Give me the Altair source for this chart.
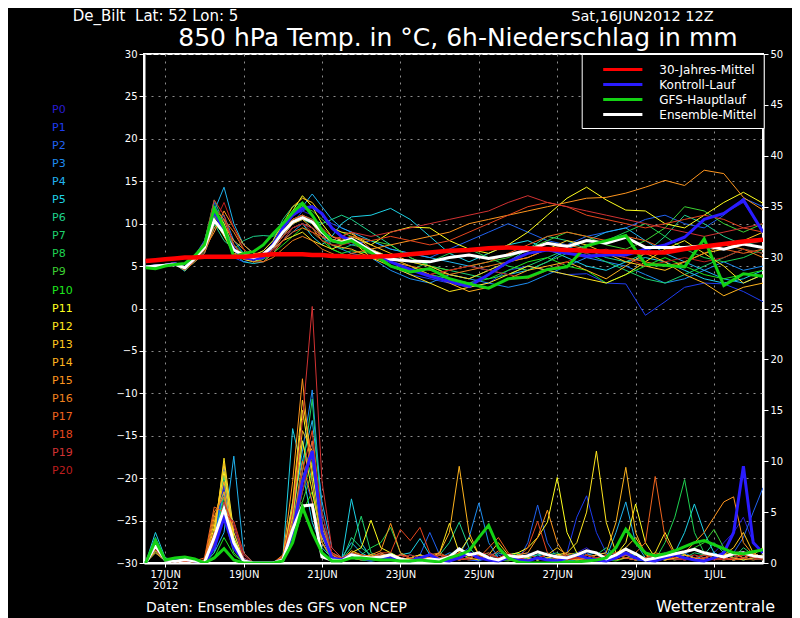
import json
import pandas as pd
import altair as alt

# ---------------- time axes (hours after 16JUN2012 12Z) ----------------
T_HOURS = [0, 6, 12, 18, 24, 30, 36, 42, 48, 54, 60, 66, 72, 78, 84, 90, 96, 102, 108, 114, 120, 126,
           138, 150, 162, 174, 186, 198, 210, 222, 234, 246, 258, 270, 282, 294, 306, 318, 330, 342, 354, 366, 378]
P_HOURS = [0, 6, 12, 18, 24, 30, 36, 42, 48, 54, 60, 66, 72, 78, 84, 90, 96, 102, 108, 114, 120, 126,
           132, 138, 144, 150, 156, 162, 168, 174, 180, 186, 192, 198, 204, 210, 216, 222, 228, 234, 240,
           246, 252, 258, 264, 270, 276, 282, 288, 294, 300, 306, 312, 318, 324, 330, 336, 342, 348, 354,
           360, 366, 372, 378]

X_TICK_HOURS = [12, 60, 108, 156, 204, 252, 300, 348]
X_TICK_LABELS = ['17JUN', '19JUN', '21JUN', '23JUN', '25JUN', '27JUN', '29JUN', '1JUL']
X_YEAR_LABEL = '2012'
TEMP_TICKS = [-30, -25, -20, -15, -10, -5, 0, 5, 10, 15, 20, 25, 30]
PREC_TICKS = [0, 5, 10, 15, 20, 25, 30, 35, 40, 45, 50]

MEMBERS = ['P0', 'P1', 'P2', 'P3', 'P4', 'P5', 'P6', 'P7', 'P8', 'P9', 'P10',
           'P11', 'P12', 'P13', 'P14', 'P15', 'P16', 'P17', 'P18', 'P19', 'P20']
MEMBER_COLORS = ['#2a1cd2', '#1e3cf0', '#2062f0', '#1e8cf0', '#20b4f0', '#1ed2e6', '#1ed28c',
                 '#1ed26e', '#1ed250', '#3cd232', '#1ee61e', '#ffff1e', '#ffe61e', '#ffc81e',
                 '#ffb41e', '#ff961e', '#f0821e', '#f0641e', '#e6461e', '#d23232', '#be1e1e']

SERIES = ['30-Jahres-Mittel', 'Kontroll-Lauf', 'GFS-Hauptlauf', 'Ensemble-Mittel']
SERIES_COLORS = ['#ff0000', '#2a1cff', '#14d214', '#ffffff']

# ---------------- 850 hPa temperature, members (deg C) ----------------
TEMP_P0 = [4.9, 5.0, 5.1, 5.3, 4.7, 6.0, 7.5, 11.0, 9.5, 6.5, 6.0, 5.8, 6.3, 7.8, 9.5, 11.0, 11.5, 11.0, 9.5, 8.0, 7.5, 8.0,
           7.0, 5.5, 4.5, 4.0, 3.5, 3.0, 4.0, 5.5, 6.5, 7.0, 6.5, 6.0, 6.2, 6.5, 7.0, 7.5, 8.4, 10.5, 11.2, 12.5, 9.0]
TEMP_P1 = [4.8, 5.0, 5.0, 5.2, 4.6, 5.8, 7.0, 12.5, 9.0, 6.0, 5.5, 5.8, 6.0, 7.0, 8.5, 10.0, 11.5, 12.0, 11.0, 10.0, 9.5, 9.0,
           6.5, 5.0, 4.0, 3.5, 3.0, 2.5, 3.0, 4.5, 5.0, 4.5, 4.0, 4.1, 3.0, 2.9, -0.8, 0.8, 2.5, 3.0, 2.9, 2.0, 0.8]
TEMP_P2 = [5.0, 5.1, 5.2, 5.4, 4.9, 6.2, 8.0, 12.0, 10.5, 7.5, 6.0, 5.5, 6.0, 7.5, 9.0, 10.0, 10.5, 10.0, 9.0, 8.5, 8.0, 7.5,
           8.0, 7.0, 6.5, 6.0, 7.0, 8.0, 9.0, 10.0, 9.0, 8.0, 7.5, 8.5, 9.0, 9.5, 10.5, 11.0, 10.0, 9.5, 11.0, 13.0, 12.0]
TEMP_P3 = [4.9, 5.0, 5.1, 5.2, 4.5, 5.5, 6.5, 9.5, 11.0, 8.0, 6.5, 6.0, 6.5, 7.0, 8.0, 9.0, 10.0, 9.5, 8.5, 7.5, 7.0, 6.5,
           6.0, 4.5, 3.5, 3.0, 4.0, 3.5, 3.0, 2.5, 3.0, 4.0, 5.0, 6.0, 5.5, 5.0, 4.0, 3.0, 3.5, 4.5, 5.5, 4.5, 5.0]
TEMP_P4 = [4.9, 5.0, 5.1, 5.3, 4.6, 5.7, 7.2, 11.5, 14.3, 10.0, 7.5, 6.5, 6.0, 7.0, 9.5, 11.0, 12.0, 13.5, 12.0, 10.5, 9.5, 9.0,
           8.0, 7.0, 6.5, 6.0, 5.5, 5.0, 4.5, 4.0, 4.5, 5.5, 7.0, 8.0, 9.0, 9.5, 8.0, 6.5, 5.5, 4.5, 3.5, 3.0, 4.0]
TEMP_P5 = [4.8, 4.9, 5.0, 5.2, 4.4, 5.6, 6.8, 10.5, 9.0, 6.5, 5.5, 5.3, 5.5, 6.5, 8.0, 9.5, 10.0, 8.5, 7.5, 8.5, 10.0, 10.8,
           11.0, 11.8, 10.5, 8.5, 6.5, 5.5, 6.5, 7.5, 8.0, 7.0, 6.0, 5.0, 4.5, 5.5, 6.0, 5.5, 4.5, 3.5, 3.0, 3.5, 4.5]
TEMP_P6 = [4.9, 5.0, 5.1, 5.3, 4.8, 6.0, 7.5, 10.0, 8.0, 7.0, 8.0, 8.5, 8.6, 8.5, 9.5, 10.5, 11.0, 10.5, 10.0, 10.5, 11.0, 10.5,
           9.0, 7.5, 6.0, 5.0, 4.0, 3.5, 4.5, 5.5, 7.0, 8.5, 8.0, 7.0, 6.0, 5.5, 6.5, 8.5, 11.0, 10.0, 8.5, 7.5, 8.0]
TEMP_P7 = [4.9, 5.0, 5.2, 5.4, 4.9, 6.1, 7.8, 12.8, 10.0, 7.0, 6.5, 6.2, 6.8, 8.0, 10.5, 12.0, 12.5, 11.0, 9.0, 7.5, 7.0, 7.5,
           7.0, 6.0, 5.5, 5.0, 4.5, 4.0, 3.5, 4.0, 5.0, 6.0, 7.0, 6.5, 5.5, 4.5, 3.5, 3.0, 4.0, 5.0, 6.0, 7.0, 6.5]
TEMP_P8 = [5.0, 5.1, 5.2, 5.3, 4.7, 5.9, 7.0, 10.8, 9.5, 7.5, 6.5, 6.0, 6.2, 7.5, 9.0, 10.0, 10.5, 10.0, 8.5, 7.0, 6.5, 6.8,
           6.5, 5.0, 4.5, 5.5, 6.5, 7.0, 6.0, 5.0, 4.5, 5.5, 6.5, 7.5, 8.0, 9.0, 10.0, 8.5, 7.0, 6.0, 5.5, 6.0, 7.0]
TEMP_P9 = [4.9, 5.0, 5.1, 5.2, 4.6, 5.8, 7.2, 11.8, 9.8, 6.8, 6.0, 5.8, 6.0, 7.5, 10.0, 11.5, 12.0, 11.5, 10.5, 9.5, 9.0, 8.5,
           8.0, 7.5, 6.0, 5.0, 4.5, 5.0, 5.5, 6.0, 7.0, 8.0, 9.0, 8.5, 7.5, 7.0, 8.0, 9.5, 12.0, 11.5, 10.0, 9.0, 10.0]
TEMP_P10 = [4.9, 5.0, 5.1, 5.2, 4.5, 5.5, 6.8, 9.8, 9.0, 7.5, 6.0, 5.5, 5.8, 6.5, 7.5, 8.5, 9.5, 9.0, 8.0, 7.0, 6.5, 6.0,
            7.0, 6.0, 5.0, 4.0, 3.5, 3.0, 3.5, 4.5, 5.5, 6.0, 5.0, 4.5, 3.0, 4.0, 5.0, 6.0, 5.0, 4.0, 3.5, 4.0, 4.5]
TEMP_P11 = [4.9, 5.0, 5.1, 5.3, 4.8, 6.0, 7.5, 11.5, 10.0, 6.5, 5.8, 5.5, 6.0, 7.5, 9.5, 11.5, 13.3, 12.0, 10.0, 8.5, 8.0, 8.5,
            7.5, 9.0, 9.6, 9.5, 8.0, 7.0, 6.5, 7.5, 9.0, 11.0, 13.0, 14.3, 12.8, 11.6, 11.5, 10.0, 9.5, 11.0, 12.5, 13.7, 12.4]
TEMP_P12 = [4.9, 5.0, 5.2, 5.3, 4.8, 6.0, 7.3, 10.5, 8.5, 6.5, 6.2, 6.0, 6.5, 7.0, 8.0, 8.5, 9.0, 8.0, 7.5, 7.0, 7.5, 8.0,
            6.0, 5.0, 4.0, 3.0, 2.0, 2.5, 3.0, 4.0, 5.0, 4.5, 4.0, 3.5, 3.0, 4.0, 5.5, 7.0, 8.0, 6.5, 5.0, 3.0, 4.0]
TEMP_P13 = [5.0, 5.1, 5.2, 5.4, 4.9, 6.2, 7.8, 11.0, 9.5, 7.0, 6.5, 6.3, 6.8, 8.0, 10.0, 12.0, 13.0, 12.5, 11.0, 9.5, 9.0, 8.8,
            7.5, 6.5, 5.5, 5.0, 4.0, 3.5, 4.5, 5.5, 6.0, 7.0, 8.0, 7.5, 6.5, 5.5, 5.0, 4.5, 5.5, 6.5, 7.0, 8.0, 9.0]
TEMP_P14 = [4.9, 5.0, 5.1, 5.3, 4.7, 5.8, 7.0, 10.2, 9.8, 8.0, 7.0, 6.0, 6.2, 7.0, 8.5, 10.0, 10.5, 9.5, 8.0, 7.5, 7.2, 7.0,
            6.0, 5.5, 5.0, 4.0, 3.0, 2.0, 2.5, 3.5, 4.5, 5.0, 5.5, 4.5, 3.5, 5.0, 6.5, 5.5, 4.0, 3.0, 1.5, 2.5, 3.0]
TEMP_P15 = [4.9, 5.0, 5.1, 5.2, 4.6, 5.7, 7.0, 9.0, 11.5, 9.5, 7.5, 6.5, 6.5, 7.5, 9.0, 10.5, 11.0, 10.0, 8.5, 8.0, 8.5, 9.0,
            7.0, 7.5, 8.0, 8.5, 9.0, 10.0, 10.5, 11.0, 11.5, 12.0, 12.5, 13.0, 13.1, 13.6, 14.3, 15.1, 14.5, 16.3, 15.9, 13.1, 11.6]
TEMP_P16 = [4.9, 5.0, 5.1, 5.2, 4.5, 5.5, 6.5, 9.5, 10.5, 9.0, 7.0, 6.0, 5.5, 6.0, 7.0, 8.0, 8.5, 8.0, 7.0, 6.5, 6.0, 6.5,
            7.0, 6.0, 5.0, 4.5, 4.0, 4.5, 5.0, 5.5, 6.0, 7.0, 7.5, 7.0, 6.5, 6.0, 5.5, 5.0, 5.5, 6.5, 7.5, 7.0, 6.0]
TEMP_P17 = [4.9, 5.0, 5.1, 5.3, 4.7, 5.9, 7.2, 11.8, 10.5, 7.5, 6.0, 5.5, 5.5, 6.5, 8.0, 9.0, 9.5, 9.0, 8.5, 8.0, 8.0, 8.0,
            6.5, 5.5, 4.5, 4.0, 4.5, 5.0, 5.5, 6.5, 7.5, 8.5, 9.0, 8.5, 8.0, 8.5, 8.0, 7.0, 7.0, 7.5, 7.0, 6.5, 7.0]
TEMP_P18 = [4.9, 5.0, 5.2, 5.3, 4.8, 6.0, 7.5, 12.0, 9.0, 6.5, 5.8, 5.8, 6.2, 7.5, 9.0, 10.5, 11.0, 10.5, 9.5, 8.5, 8.2, 8.5,
            8.0, 8.5, 8.0, 7.5, 8.0, 9.0, 10.0, 11.0, 12.0, 12.5, 12.0, 11.0, 10.5, 10.0, 9.5, 10.0, 10.5, 11.0, 10.5, 9.5, 9.0]
TEMP_P19 = [5.0, 5.1, 5.2, 5.4, 4.9, 6.1, 7.8, 12.8, 11.0, 7.5, 6.2, 5.8, 6.0, 7.0, 8.5, 9.5, 10.0, 9.5, 8.5, 8.0, 8.5, 9.0,
            8.5, 9.0, 9.5, 10.0, 10.5, 11.0, 11.5, 12.5, 13.3, 12.5, 12.0, 11.5, 11.0, 10.5, 10.0, 9.5, 9.0, 8.5, 9.0, 9.5, 10.0]
TEMP_P20 = [4.9, 5.0, 5.1, 5.2, 4.6, 5.6, 6.8, 10.0, 12.5, 9.5, 7.0, 6.0, 6.0, 6.8, 8.0, 9.5, 10.0, 9.0, 8.0, 7.5, 7.5, 7.8,
            6.5, 5.5, 4.5, 4.0, 4.5, 5.0, 4.5, 4.0, 3.5, 4.5, 5.5, 6.5, 7.0, 6.0, 5.0, 5.5, 6.0, 5.5, 6.0, 7.0, 6.5]

# ---------------- 850 hPa temperature, highlighted series ----------------
TEMP_CLIMATE = [5.6, 5.7, 5.8, 5.9, 6.0, 6.0, 6.1, 6.1, 6.1, 6.1, 6.1, 6.2, 6.3, 6.4, 6.4, 6.4, 6.4, 6.3, 6.3, 6.2, 6.2, 6.1,
                6.1, 6.2, 6.4, 6.6, 6.8, 6.9, 7.1, 7.2, 7.1, 7.0, 6.9, 6.8, 6.7, 6.7, 6.6, 6.6, 7.0, 7.3, 7.6, 7.9, 8.1]
TEMP_CONTROL = [4.9, 5.0, 5.1, 5.3, 4.8, 6.0, 7.5, 11.5, 9.0, 7.0, 6.0, 5.8, 6.0, 7.5, 9.5, 11.0, 11.8, 12.0, 11.2, 9.5, 8.5, 8.0,
                6.8, 5.5, 4.6, 3.8, 3.2, 2.6, 4.0, 5.5, 6.5, 6.9, 6.5, 6.2, 6.3, 6.3, 7.0, 7.5, 8.4, 10.5, 11.2, 12.8, 9.0]
TEMP_GFS = [4.8, 4.7, 5.0, 5.2, 5.3, 6.2, 7.5, 11.8, 9.5, 6.1, 6.5, 6.7, 7.5, 8.8, 10.0, 11.3, 12.4, 11.0, 9.2, 8.0, 7.7, 8.0,
            6.6, 5.0, 4.3, 4.7, 3.5, 2.9, 2.4, 3.5, 3.7, 4.6, 4.9, 7.4, 8.0, 8.6, 5.2, 5.1, 4.9, 8.2, 2.7, 4.1, 3.8]
TEMP_MEAN = [4.9, 5.0, 5.1, 5.2, 4.8, 5.9, 7.2, 10.4, 8.9, 6.9, 6.3, 6.0, 6.4, 7.4, 9.0, 10.2, 10.7, 10.2, 9.0, 8.0, 7.8, 8.2,
             6.8, 5.8, 5.6, 5.5, 6.0, 6.3, 5.9, 6.3, 6.9, 7.7, 7.3, 8.0, 7.7, 8.4, 7.2, 7.2, 7.2, 7.4, 7.0, 7.6, 7.2]

# ---------------- 6h precipitation, members (mm) ----------------
PREC_P0 = [0, 1.8, 0.3, 0.2, 0.4, 0.2, 0, 1.5, 8.0, 2.0, 0.3, 0, 0, 0, 0.2, 2.5, 7.0, 11.0, 3.0, 0.5, 0.2, 0.5, 0.3, 0.2, 0.5,
           0.5, 0.3, 0.2, 0.5, 0.8, 0.3, 0.2, 0.5, 0.3, 0.2, 0.8, 1.0, 0.5, 0.3, 0.2, 0.5, 0.3, 0.2, 0.5, 1.0,
           1.5, 0.8, 0.3, 0.5, 1.0, 0.8, 0.3, 0.2, 0.5, 1.0, 0.8, 0.5, 0.3, 1.0, 2.0, 3.0, 4.5, 2.0, 1.0]
PREC_P1 = [0, 2.0, 0.4, 0.1, 0.3, 0.1, 0, 2.5, 7.5, 1.5, 0.2, 0, 0, 0, 0.5, 4.0, 9.0, 6.0, 2.0, 0.3, 0.1, 1.0, 0.5, 0.3, 0.8,
           0.3, 0.2, 0.5, 0.3, 1.0, 0.5, 0.3, 0.8, 1.5, 0.5, 0.3, 0.2, 0.5, 0.8, 1.0, 0.5, 0.3, 0.5, 1.0, 4.5,
           6.6, 3.0, 1.0, 0.5, 0.8, 0.5, 0.3, 0.2, 0.5, 0.8, 0.5, 0.3, 0.5, 1.0, 0.5, 0.3, 0.5, 1.0, 0.5]
PREC_P2 = [0, 1.5, 0.2, 0.1, 0.2, 0.1, 0, 2.0, 9.5, 3.0, 0.3, 0, 0, 0, 0.3, 3.0, 8.0, 12.0, 4.0, 1.0, 0.5, 0.8, 0.6, 0.5, 1.0,
           0.5, 0.3, 0.2, 0.8, 3.0, 0.8, 0.3, 0.5, 0.3, 0.2, 0.5, 0.8, 0.3, 0.2, 2.0, 5.7, 2.0, 0.5, 0.3, 0.5,
           1.0, 0.5, 0.3, 0.5, 0.8, 0.3, 0.2, 0.5, 1.0, 0.5, 0.3, 0.5, 0.8, 0.5, 0.3, 1.0, 2.5, 5.0, 7.4]
PREC_P3 = [0, 2.2, 0.3, 0.2, 0.5, 0.3, 0, 1.0, 6.0, 4.0, 0.5, 0, 0, 0, 0.2, 5.0, 11.0, 17.0, 5.0, 0.8, 0.3, 0.5, 0.3, 0.2, 0.3,
           0.3, 0.5, 0.8, 0.5, 0.3, 0.5, 1.0, 0.8, 2.5, 5.9, 2.0, 0.5, 0.3, 0.8, 0.5, 0.3, 1.0, 0.5, 0.3, 0.2,
           0.5, 0.8, 1.0, 0.5, 1.5, 0.8, 0.3, 0.5, 0.3, 0.8, 1.0, 0.5, 0.3, 0.5, 0.8, 0.5, 0.3, 0.5, 0.8]
PREC_P4 = [0, 2.5, 0.3, 0.2, 0.6, 0.3, 0, 1.0, 3.0, 10.5, 1.0, 0, 0, 0, 0.3, 6.0, 10.0, 14.0, 6.0, 1.5, 0.5, 2.0, 1.0, 0.5, 0.5,
           0.8, 0.5, 0.3, 0.5, 0.8, 0.3, 0.2, 0.5, 1.0, 0.5, 0.3, 0.5, 0.8, 0.3, 0.5, 0.8, 0.5, 0.3, 0.2, 0.5,
           0.8, 1.0, 0.5, 3.0, 6.0, 2.0, 0.5, 0.3, 0.5, 0.8, 0.5, 0.3, 0.8, 1.0, 0.5, 0.3, 0.5, 0.8, 0.5]
PREC_P5 = [0, 3.0, 0.5, 0.3, 0.6, 0.4, 0, 2.0, 7.0, 2.0, 0.3, 0, 0, 0, 0.5, 13.2, 9.0, 4.0, 1.5, 0.5, 0.3, 6.3, 2.0, 0.5, 0.3,
           0.5, 0.8, 1.0, 2.4, 0.8, 0.3, 0.5, 0.8, 0.5, 0.3, 0.5, 0.3, 0.8, 1.0, 0.5, 0.3, 0.5, 0.8, 0.5, 0.3,
           0.5, 0.3, 0.5, 0.8, 1.0, 0.5, 0.3, 0.5, 0.8, 1.0, 3.0, 5.8, 3.0, 1.0, 0.5, 0.3, 0.5, 0.8, 0.5]
PREC_P6 = [0, 1.2, 0.2, 0.1, 0.3, 0.2, 0, 3.0, 8.5, 2.5, 0.2, 0, 0, 0, 0.3, 4.0, 12.0, 8.0, 2.0, 0.5, 0.2, 2.5, 1.5, 0.8, 0.5,
           0.5, 0.3, 0.5, 0.8, 0.5, 0.8, 2.0, 4.0, 1.5, 0.5, 0.3, 0.5, 0.8, 0.3, 0.5, 0.8, 1.0, 0.5, 0.3, 0.5,
           0.8, 0.5, 0.3, 0.5, 1.0, 0.8, 0.5, 0.3, 0.8, 1.0, 0.5, 0.3, 0.8, 2.0, 1.0, 0.5, 0.8, 1.0, 0.5]
PREC_P7 = [0, 2.3, 0.4, 0.3, 0.6, 0.4, 0, 1.0, 5.5, 1.5, 0.2, 0, 0, 0, 0.2, 3.5, 9.0, 16.1, 4.0, 0.8, 0.3, 1.5, 4.6, 1.0, 0.5,
           1.0, 0.5, 0.3, 0.5, 0.8, 0.5, 0.3, 0.5, 0.8, 0.5, 0.3, 1.0, 0.8, 0.5, 0.3, 0.5, 0.8, 1.0, 0.5, 0.3,
           0.5, 0.8, 1.5, 0.8, 0.5, 0.3, 0.5, 0.8, 0.5, 0.3, 0.5, 1.0, 0.8, 0.5, 0.3, 0.5, 1.5, 0.8, 0.5]
PREC_P8 = [0, 1.0, 0.2, 0.1, 0.2, 0.1, 0, 2.0, 6.5, 1.8, 0.2, 0, 0, 0, 0.4, 2.5, 7.0, 10.0, 3.0, 0.5, 0.2, 1.0, 0.8, 1.5, 2.0,
           3.5, 1.0, 0.5, 0.3, 0.5, 0.8, 0.5, 0.3, 0.5, 0.8, 0.5, 0.3, 0.5, 1.0, 0.5, 0.3, 0.5, 0.8, 0.5, 0.3,
           0.8, 0.5, 0.3, 0.5, 0.8, 1.0, 0.5, 0.3, 2.0, 4.5, 8.2, 3.0, 1.0, 0.5, 0.3, 0.5, 0.8, 0.5, 0.3]
PREC_P9 = [0, 1.8, 0.3, 0.2, 0.4, 0.2, 0, 1.5, 4.5, 1.0, 0.1, 0, 0, 0, 0.3, 5.0, 6.0, 9.0, 2.5, 0.5, 0.3, 0.5, 0.5, 0.3, 0.8,
           0.5, 0.3, 0.5, 0.8, 0.3, 0.5, 0.8, 0.5, 0.3, 0.5, 1.0, 0.5, 0.3, 0.5, 0.8, 0.5, 0.3, 0.5, 0.8, 1.0,
           0.5, 0.3, 0.5, 0.8, 0.5, 0.3, 0.5, 0.8, 0.5, 0.3, 1.0, 1.5, 2.0, 3.3, 1.5, 0.5, 0.3, 0.5, 0.8]
PREC_P10 = [0, 2.0, 0.3, 0.2, 0.5, 0.3, 0, 0.5, 2.5, 0.8, 0.1, 0, 0, 0, 0.2, 2.0, 5.0, 7.0, 2.0, 0.3, 0.2, 0.5, 0.3, 0.2, 0.3,
            0.3, 0.5, 0.3, 0.2, 0.5, 0.3, 0.5, 0.8, 0.5, 0.3, 0.5, 0.3, 0.2, 0.5, 0.8, 0.5, 0.3, 0.5, 0.3, 0.5,
            0.8, 0.5, 0.3, 0.2, 0.5, 0.8, 0.5, 0.3, 0.5, 0.8, 0.5, 0.3, 0.5, 0.8, 0.5, 0.3, 0.5, 0.3, 0.5]
PREC_P11 = [0, 1.5, 0.2, 0.1, 0.3, 0.2, 0, 3.5, 9.0, 2.5, 0.3, 0, 0, 0, 0.4, 5.5, 15.0, 9.0, 3.0, 1.0, 0.5, 1.0, 1.5, 4.2, 1.5,
            1.0, 0.5, 0.3, 0.5, 0.8, 0.5, 0.3, 0.5, 0.8, 0.5, 0.3, 0.5, 0.8, 1.0, 1.5, 2.5, 4.0, 8.4, 3.0, 1.0,
            0.5, 0.3, 0.5, 0.8, 2.0, 5.8, 2.0, 0.5, 0.3, 0.5, 0.8, 0.5, 0.3, 0.5, 0.8, 1.0, 0.5, 0.8, 1.5]
PREC_P12 = [0, 1.2, 0.2, 0.1, 0.2, 0.1, 0, 2.5, 10.3, 3.0, 0.3, 0, 0, 0, 0.3, 4.5, 12.0, 7.0, 2.5, 0.5, 0.2, 0.8, 0.6, 0.8, 0.5,
            0.5, 0.3, 0.5, 0.8, 0.5, 1.0, 3.9, 1.0, 2.5, 0.8, 0.5, 0.3, 0.5, 0.8, 0.5, 0.3, 0.5, 0.8, 1.0, 2.0,
            5.0, 11.0, 4.0, 1.0, 0.5, 0.3, 0.5, 1.0, 3.0, 1.0, 0.5, 0.3, 0.5, 0.8, 0.5, 0.3, 0.5, 0.8, 0.5]
PREC_P13 = [0, 2.0, 0.3, 0.2, 0.4, 0.2, 0, 3.0, 9.8, 2.0, 0.2, 0, 0, 0, 0.5, 6.0, 16.0, 10.0, 3.0, 0.5, 0.3, 1.0, 0.5, 0.5, 0.8,
            0.5, 0.8, 0.5, 0.3, 0.5, 0.8, 0.5, 1.0, 0.5, 0.3, 0.8, 2.0, 0.8, 0.5, 0.3, 0.5, 0.8, 1.5, 0.8, 0.5,
            0.3, 0.5, 0.8, 1.0, 1.5, 2.5, 1.0, 0.5, 0.3, 0.5, 0.8, 0.5, 0.3, 0.5, 0.8, 1.5, 3.0, 1.0, 0.5]
PREC_P14 = [0, 1.5, 0.2, 0.1, 0.2, 0.1, 0, 4.0, 8.0, 2.0, 0.2, 0, 0, 0, 0.3, 5.0, 13.0, 11.0, 3.5, 0.8, 0.3, 1.2, 0.8, 0.6, 1.0,
            0.5, 0.3, 0.5, 0.8, 0.5, 1.0, 3.0, 9.5, 3.0, 0.8, 0.5, 0.3, 0.5, 0.8, 0.5, 0.3, 0.5, 0.8, 0.5, 0.3,
            0.5, 0.8, 1.0, 4.0, 9.4, 3.0, 0.8, 0.5, 0.3, 0.5, 0.8, 0.5, 0.3, 0.5, 0.8, 0.5, 0.3, 0.5, 0.8]
PREC_P15 = [0, 1.8, 0.3, 0.2, 0.3, 0.2, 0, 4.5, 7.0, 1.5, 0.2, 0, 0, 0, 0.6, 8.0, 18.1, 8.0, 2.0, 0.5, 0.3, 0.8, 0.5, 0.8, 1.2,
            3.9, 1.0, 0.5, 0.3, 0.5, 0.8, 0.5, 0.3, 0.5, 0.8, 0.5, 0.3, 0.5, 0.8, 1.0, 2.5, 5.2, 2.0, 0.5, 0.3,
            0.5, 0.8, 0.5, 0.3, 0.5, 0.8, 0.5, 0.3, 0.5, 0.8, 1.0, 2.0, 3.0, 4.5, 6.0, 6.5, 2.0, 0.8, 0.5]
PREC_P16 = [0, 1.0, 0.2, 0.1, 0.2, 0.1, 0.3, 5.0, 6.5, 1.8, 0.2, 0, 0, 0, 0.8, 3.5, 10.0, 6.0, 2.0, 0.5, 0.2, 0.5, 0.3, 0.5, 0.8,
            0.8, 0.5, 0.3, 0.5, 0.8, 1.0, 0.5, 0.3, 0.5, 0.8, 0.5, 1.2, 0.8, 0.5, 0.3, 0.5, 0.8, 0.5, 1.0, 0.8,
            0.5, 0.3, 0.5, 0.8, 0.5, 0.3, 0.5, 1.0, 0.8, 0.5, 0.3, 0.5, 0.8, 0.5, 0.3, 0.5, 0.8, 1.0, 0.5]
PREC_P17 = [0, 1.6, 0.3, 0.2, 0.3, 0.2, 0.5, 5.5, 5.0, 1.5, 0.2, 0, 0, 0, 0.7, 4.0, 8.0, 12.0, 3.0, 0.8, 0.4, 0.8, 0.6, 0.5, 0.6,
            0.5, 0.8, 0.5, 0.3, 0.5, 0.8, 0.5, 1.0, 0.8, 0.5, 1.5, 2.5, 1.0, 0.5, 0.3, 0.5, 0.8, 0.5, 0.3, 0.5,
            0.8, 0.5, 0.3, 0.5, 0.8, 1.0, 2.0, 8.5, 2.5, 0.8, 0.5, 0.3, 0.5, 0.8, 0.5, 0.3, 0.5, 0.8, 0.5]
PREC_P18 = [0, 1.3, 0.2, 0.1, 0.2, 0.1, 0.3, 3.0, 4.5, 4.1, 1.0, 0, 0, 0, 0.5, 3.0, 9.0, 13.0, 4.0, 1.0, 0.5, 1.0, 0.8, 0.6, 1.0,
            1.0, 3.3, 2.2, 3.5, 1.0, 0.5, 0.3, 0.5, 0.8, 0.5, 0.3, 0.5, 0.8, 0.5, 1.5, 4.1, 1.0, 0.5, 0.3, 0.5,
            0.8, 0.5, 0.3, 0.5, 0.8, 0.5, 0.3, 0.5, 0.8, 1.0, 0.5, 0.3, 0.5, 0.8, 0.5, 0.3, 0.5, 0.8, 0.5]
PREC_P19 = [0, 2.0, 0.3, 0.2, 0.3, 0.2, 0, 1.5, 6.0, 3.5, 0.5, 0, 0, 0, 0.4, 5.0, 14.0, 25.2, 8.0, 1.5, 0.5, 0.8, 0.5, 0.5, 0.8,
            0.5, 0.8, 0.5, 0.3, 0.5, 0.8, 0.5, 0.3, 0.5, 0.8, 1.0, 0.5, 0.3, 0.5, 0.8, 0.5, 0.3, 0.5, 0.8, 0.5,
            0.3, 0.5, 0.8, 1.0, 0.5, 0.3, 0.5, 0.8, 0.5, 0.3, 0.5, 0.8, 0.5, 0.3, 0.5, 0.8, 0.5, 0.3, 0.5]
PREC_P20 = [0, 1.4, 0.2, 0.1, 0.2, 0.1, 0, 2.0, 5.0, 4.0, 0.8, 0, 0, 0, 0.3, 3.0, 7.0, 11.0, 5.0, 1.0, 0.3, 0.5, 0.4, 0.3, 0.5,
            0.3, 0.5, 0.8, 0.5, 0.3, 0.5, 0.8, 0.5, 0.3, 0.5, 0.8, 0.5, 1.0, 0.5, 0.3, 0.5, 0.8, 0.5, 0.3, 0.5,
            0.8, 0.5, 0.3, 0.5, 1.0, 0.5, 0.3, 0.5, 0.8, 0.5, 0.3, 0.5, 0.8, 0.5, 0.3, 0.5, 0.8, 0.5, 0.3]

# ---------------- 6h precipitation, highlighted series ----------------
PREC_CONTROL = [0, 1.8, 0.3, 0.2, 0.4, 0.2, 0, 1.5, 4.5, 1.5, 0.2, 0, 0, 0, 0.3, 3.0, 8.0, 11.0, 3.0, 0.5, 0.3, 0.8, 0.5, 0.3, 0.5,
                0.5, 0.3, 0.2, 0.5, 0.8, 0.3, 0.2, 0.5, 1.0, 0.5, 0.3, 0.2, 0.5, 0.3, 0.2, 0.5, 0.3, 0.2, 0.5, 0.8,
                0.5, 0.3, 0.2, 0.5, 1.0, 0.5, 0.3, 0.2, 0.5, 0.8, 0.5, 0.3, 0.2, 0.5, 1.0, 3.0, 9.5, 2.0, 1.0]
PREC_GFS = [0, 2.2, 0.3, 0.5, 0.6, 0.4, 0, 0.5, 1.4, 0.3, 0, 0, 0, 0, 0.2, 2.0, 5.5, 3.0, 1.0, 0.2, 0.2, 0.5, 0.5, 0.4, 0.3,
            0.3, 0.2, 0.2, 0.3, 0.2, 0.1, 0.5, 0.8, 1.2, 2.5, 3.7, 1.5, 0.5, 0.1, 0, 0, 0, 0, 0.1, 0.1,
            0.2, 0.3, 0.5, 1.5, 3.3, 2.0, 1.0, 0.7, 0.9, 1.2, 1.6, 2.0, 2.2, 1.8, 1.4, 1.0, 0.9, 1.1, 1.3]
PREC_MEAN = [0, 1.7, 0.3, 0.15, 0.35, 0.2, 0.05, 2.5, 5.3, 2.0, 0.2, 0, 0, 0, 0.3, 3.3, 5.6, 5.7, 0.6, 0.3, 0.2, 0.8, 0.6, 0.5, 0.6,
             0.8, 0.4, 0.2, 0.2, 0.4, 0.3, 0.6, 1.4, 0.8, 1.0, 0.5, 0.3, 0.7, 0.6, 0.7, 1.1, 0.8, 0.6, 0.5, 0.8,
             1.2, 1.0, 0.4, 0.8, 1.35, 0.9, 0.3, 0.5, 0.7, 0.9, 1.1, 1.35, 1.0, 0.8, 0.6, 0.9, 1.0, 0.7, 0.6]

TEMP_MEMBERS = [TEMP_P0, TEMP_P1, TEMP_P2, TEMP_P3, TEMP_P4, TEMP_P5, TEMP_P6, TEMP_P7, TEMP_P8, TEMP_P9, TEMP_P10,
                TEMP_P11, TEMP_P12, TEMP_P13, TEMP_P14, TEMP_P15, TEMP_P16, TEMP_P17, TEMP_P18, TEMP_P19, TEMP_P20]
PREC_MEMBERS = [PREC_P0, PREC_P1, PREC_P2, PREC_P3, PREC_P4, PREC_P5, PREC_P6, PREC_P7, PREC_P8, PREC_P9, PREC_P10,
                PREC_P11, PREC_P12, PREC_P13, PREC_P14, PREC_P15, PREC_P16, PREC_P17, PREC_P18, PREC_P19, PREC_P20]


def rows(key, name, hours, values, field):
    if len(hours) != len(values):
        raise ValueError(f"{name}: {len(values)} values for {len(hours)} hours")
    return [{key: name, 'hour': h, field: v} for h, v in zip(hours, values)]


temp_members = []
prec_members = []
for m, tv, pv in zip(MEMBERS, TEMP_MEMBERS, PREC_MEMBERS):
    temp_members += rows('member', m, T_HOURS, tv, 'temp')
    prec_members += rows('member', m, P_HOURS, pv, 'prec')
temp_members = pd.DataFrame(temp_members)
prec_members = pd.DataFrame(prec_members)

temp_series = pd.DataFrame(
    rows('series', SERIES[0], T_HOURS, TEMP_CLIMATE, 'temp')
    + rows('series', SERIES[1], T_HOURS, TEMP_CONTROL, 'temp')
    + rows('series', SERIES[2], T_HOURS, TEMP_GFS, 'temp')
    + rows('series', SERIES[3], T_HOURS, TEMP_MEAN, 'temp'))
prec_series = pd.DataFrame(
    rows('series', SERIES[1], P_HOURS, PREC_CONTROL, 'prec')
    + rows('series', SERIES[2], P_HOURS, PREC_GFS, 'prec')
    + rows('series', SERIES[3], P_HOURS, PREC_MEAN, 'prec'))

FONT = 'DejaVu Sans'

label_expr = (f"datum.value == {X_TICK_HOURS[0]} ? "
              f"[{json.dumps(X_TICK_LABELS[0])}, {json.dumps(X_YEAR_LABEL)}] : "
              f"{json.dumps(X_TICK_LABELS)}[indexof({json.dumps(X_TICK_HOURS)}, datum.value)]")

X = alt.X('hour:Q', scale=alt.Scale(domain=[-1, 378], nice=False, zero=False),
          axis=alt.Axis(values=X_TICK_HOURS, labelExpr=label_expr, title=None, grid=True,
                        tickSize=4, labelPadding=2, labelFontSize=10, labelLineHeight=11,
                        labelOverlap=False, labelFlush=False))
YT = alt.Y('temp:Q', scale=alt.Scale(domain=[-30, 30], nice=False, zero=False),
           axis=alt.Axis(orient='left', values=TEMP_TICKS, title=None, grid=True, tickSize=5,
                         labelPadding=2, labelFlush=False, labelOverlap=False))
YP = alt.Y('prec:Q', scale=alt.Scale(domain=[0, 50], nice=False, zero=False),
           axis=alt.Axis(orient='right', values=PREC_TICKS, title=None, grid=False, tickSize=5,
                         labelPadding=2, labelFlush=False, labelOverlap=False))

STROKE = alt.Stroke('member:N', scale=alt.Scale(domain=MEMBERS, range=MEMBER_COLORS), legend=None)
LEGEND = alt.Legend(title=None, orient='none', legendX=437.7, legendY=0, direction='vertical',
                    fillColor='black', strokeColor='white', padding=7,
                    symbolType='M-2.8,0H2.8', symbolSize=196, symbolStrokeWidth=3,
                    symbolOffset=25.6, labelOffset=28, rowPadding=-0.7,
                    labelColor='white', labelFont=FONT, labelFontSize=12, labelLimit=250)
COLOR = alt.Color('series:N', scale=alt.Scale(domain=SERIES, range=SERIES_COLORS), legend=LEGEND)


def thick(df, name, width, y):
    return (alt.Chart(df).transform_filter(alt.datum.series == name)
            .mark_line(strokeWidth=width, clip=True)
            .encode(x=X, y=y, color=COLOR))


temp_layer = alt.layer(
    alt.Chart(temp_members).mark_line(strokeWidth=1, clip=True).encode(x=X, y=YT, stroke=STROKE),
    thick(temp_series, 'Kontroll-Lauf', 3, YT),
    thick(temp_series, 'Ensemble-Mittel', 3, YT),
    thick(temp_series, 'GFS-Hauptlauf', 3, YT),
    thick(temp_series, '30-Jahres-Mittel', 4.5, YT),
)
prec_layer = alt.layer(
    alt.Chart(prec_members).mark_line(strokeWidth=1, clip=True).encode(x=X, y=YP, stroke=STROKE),
    thick(prec_series, 'Kontroll-Lauf', 3, YP),
    thick(prec_series, 'Ensemble-Mittel', 3, YP),
    thick(prec_series, 'GFS-Hauptlauf', 3, YP),
)

member_labels = alt.Chart(pd.DataFrame({'member': MEMBERS})).mark_text(
    align='left', baseline='middle', font=FONT, fontSize=11
).encode(
    x=alt.value(-92),
    y=alt.Y('member:N', sort=MEMBERS, scale=alt.Scale(type='point', range=[56, 417], padding=0), axis=None),
    text='member:N',
    fill=alt.Fill('member:N', scale=alt.Scale(domain=MEMBERS, range=MEMBER_COLORS), legend=None),
)

one = pd.DataFrame({'a': [0]})


def label(text, x, y, size, align='left'):
    return alt.Chart(one).mark_text(text=text, align=align, baseline='alphabetic', font=FONT,
                                    fontSize=size, color='white').encode(x=alt.value(x), y=alt.value(y))


texts = [
    label('De_Bilt\u00a0\u00a0Lat: 52 Lon: 5', -71.3, -33.5, 15),
    label('Sat,16JUN2012 12Z', 498.5, -33.5, 14.5, 'center'),
    label('850 hPa Temp. in °C, 6h-Niederschlag in mm', 34.3, -8.5, 25),
    label('Daten: Ensembles des GFS von NCEP', 2, 558, 14),
    label('Wetterzentrale', 631, 558, 16, 'right'),
]

chart = (
    alt.layer(temp_layer, prec_layer, member_labels, *texts)
    .resolve_scale(y='independent')
    .properties(width=619, height=509,
                padding={'left': 136, 'top': 46, 'right': 29, 'bottom': 55},
                autosize=alt.AutoSizeParams(type='none'))
    .configure(background='black', font=FONT)
    .configure_view(stroke='white', strokeWidth=2)
    .configure_axis(labelColor='white', labelFont=FONT, labelFontSize=10, tickColor='white',
                    tickWidth=1, domainColor='white', domainWidth=2, gridColor='#8c8c8c',
                    gridDash=[2, 5], gridWidth=1, gridOpacity=1)
)

chart.save('out.html', embed_options={'renderer': 'svg', 'actions': False})
